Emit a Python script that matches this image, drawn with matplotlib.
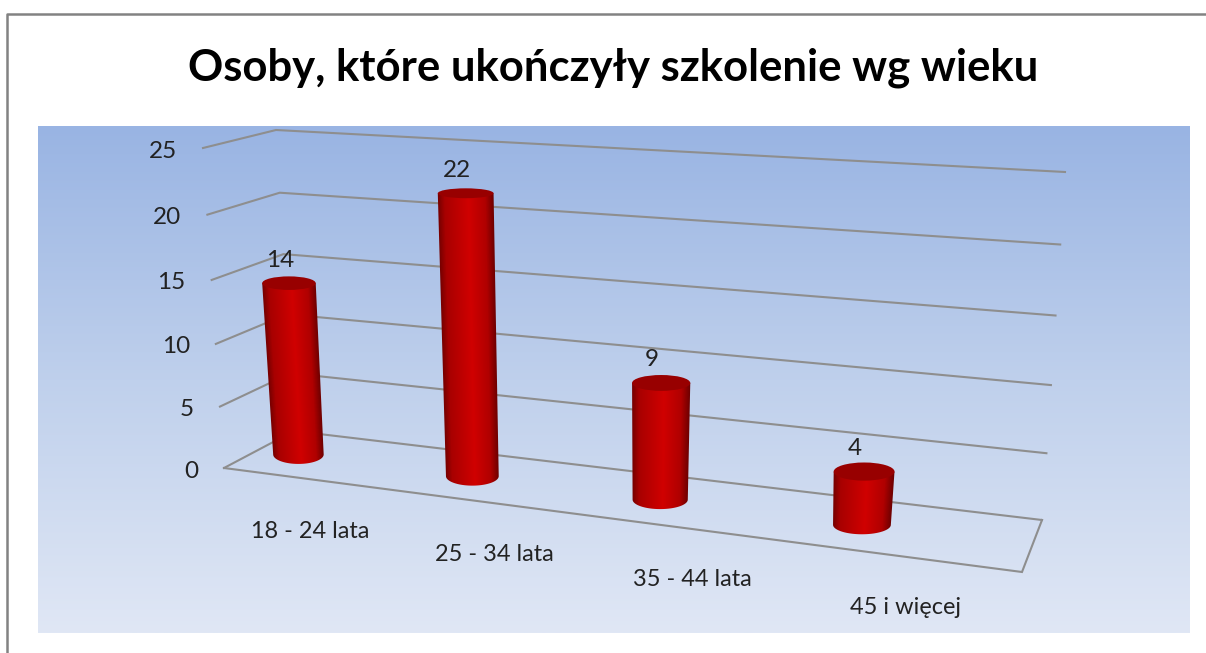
import numpy as np
import matplotlib
matplotlib.use('Agg')
import matplotlib.pyplot as plt
from matplotlib.colors import LinearSegmentedColormap
from matplotlib.patches import Ellipse, Polygon

# data
categories = ['18 - 24 lata', '25 - 34 lata', '35 - 44 lata', '45 i więcej']
values = [14, 22, 9, 4]
y_ticks = [0, 5, 10, 15, 20, 25]
title = 'Osoby, które ukończyły szkolenie wg wieku'

plt.rcParams['font.family'] = ['Lato', 'DejaVu Sans']

# corners of the 3d box in pixels, (base, top of axis)
front_left = ((224, 468), (203, 148))
back_left = ((294, 431), (276, 130))
back_right = ((1042, 520), (1065, 172))
front_right = ((1022, 572), (1046, 205))


def axis_scale(v):
    # perspective makes the upper steps a little taller
    k = 0.05
    s = v / 25
    return s * (1 - k) / (1 - k * s)


def project(u, w, v):
    # u: along categories, w: depth (0 front, 1 back), v: value
    g = axis_scale(v)
    pts = []
    for c in (front_left, back_left, back_right, front_right):
        pts.append(np.array(c[0]) + (np.array(c[1]) - np.array(c[0])) * g)
    left = pts[0] * (1 - w) + pts[1] * w
    right = pts[3] * (1 - w) + pts[2] * w
    return left * (1 - u) + right * u


def cat_pos(i):
    return 0.051 + 0.225 * i + 0.009 * i * (i - 1)


fig = plt.figure(figsize=(12.06, 6.53), dpi=100)
ax = fig.add_axes([0, 0, 1, 1])
ax.set_xlim(0, 1206)
ax.set_ylim(653, 0)

# background
grad_cmap = LinearSegmentedColormap.from_list('bg', ['#99B4E3', '#BFD0EC', '#E0E7F5'])
grad = np.linspace(0, 1, 256).reshape(-1, 1)
ax.imshow(grad, cmap=grad_cmap, extent=(38, 1190, 633, 126), aspect='auto', zorder=0)

ax.plot([7, 7, 1206], [653, 14, 14], color='#828282', lw=1.8, zorder=1)

# grid lines on side and back wall
grid_color = '#8E8E8E'
for v in y_ticks:
    p = np.array([project(0, 0, v), project(0, 1, v), project(1, 1, v)])
    ax.plot(p[:, 0], p[:, 1], color=grid_color, lw=1.5, zorder=2, solid_joinstyle='miter')
    ax.text(p[0, 0] - 26, p[0, 1] + 3, str(v), ha='right', va='center', fontsize=17.5,
            color='#222222', zorder=6)

# floor
floor = np.array([project(0, 0, 0), project(1, 0, 0), project(1, 1, 0)])
ax.plot(floor[:, 0], floor[:, 1], color=grid_color, lw=1.5, zorder=2, solid_joinstyle='miter')

# cylinders: horizontal shading image, clipped to the outline of the body
bar_cmap = LinearSegmentedColormap.from_list(
    'bar', [(0, '#760000'), (0.12, '#A80000'), (0.55, '#D00000'), (0.85, '#B00000'), (1, '#6E0000')])
for i, v in enumerate(values):
    u = cat_pos(i)
    base = project(u, 0.5, 0)
    top = project(u, 0.5, v)
    rx_base = 25 + 5 * u
    rx_top = rx_base + 1.5
    ry_base = 9.5
    ry_top = 10 - 0.23 * v

    x0 = int(min(top[0] - rx_top, base[0] - rx_base)) - 2
    x1 = int(max(top[0] + rx_top, base[0] + rx_base)) + 3
    y0 = int(top[1]) - 2
    y1 = int(base[1] + ry_base) + 3
    xx, yy = np.meshgrid(np.arange(x0, x1) + 0.5, np.arange(y0, y1) + 0.5)
    f = (yy - top[1]) / (base[1] - top[1])
    cx = top[0] + (base[0] - top[0]) * f
    rx = rx_top + (rx_base - rx_top) * f
    shade = np.clip((xx - cx + rx) / (2 * rx), 0, 1)
    im = ax.imshow(shade, cmap=bar_cmap, vmin=0, vmax=1, extent=(x0, x1, y1, y0), aspect='auto',
                   interpolation='bilinear', zorder=3)

    theta = np.linspace(0, np.pi, 60)
    arc = np.column_stack([base[0] + rx_base * np.cos(theta), base[1] + ry_base * np.sin(theta)])
    outline = np.vstack([[top[0] - rx_top, top[1]], [top[0] + rx_top, top[1]], arc])
    im.set_clip_path(Polygon(outline, closed=True, transform=ax.transData))

    # front half of the top edge is covered by the darker lid
    ax.add_patch(Ellipse(top, 2 * rx_top, 2 * ry_top, facecolor='#980000', edgecolor='none', zorder=4))

    ax.text(top[0] - 9, top[1] - 23, str(v), ha='center', va='center', fontsize=17.5,
            color='#222222', zorder=6)

    # category label sits under the front edge of the floor
    front = project(u, 0, 0)
    ax.text(front[0] + 45 + 18 * u, front[1] + 58, categories[i], ha='center', va='center',
            fontsize=16.9, color='#222222', zorder=6)

ax.text(613, 68, title, ha='center', va='center', fontsize=31.4, fontweight='bold', color='black')

ax.set_xlim(0, 1206)
ax.set_ylim(653, 0)
ax.axis('off')

fig.savefig('out.png', dpi=100, facecolor='white')
